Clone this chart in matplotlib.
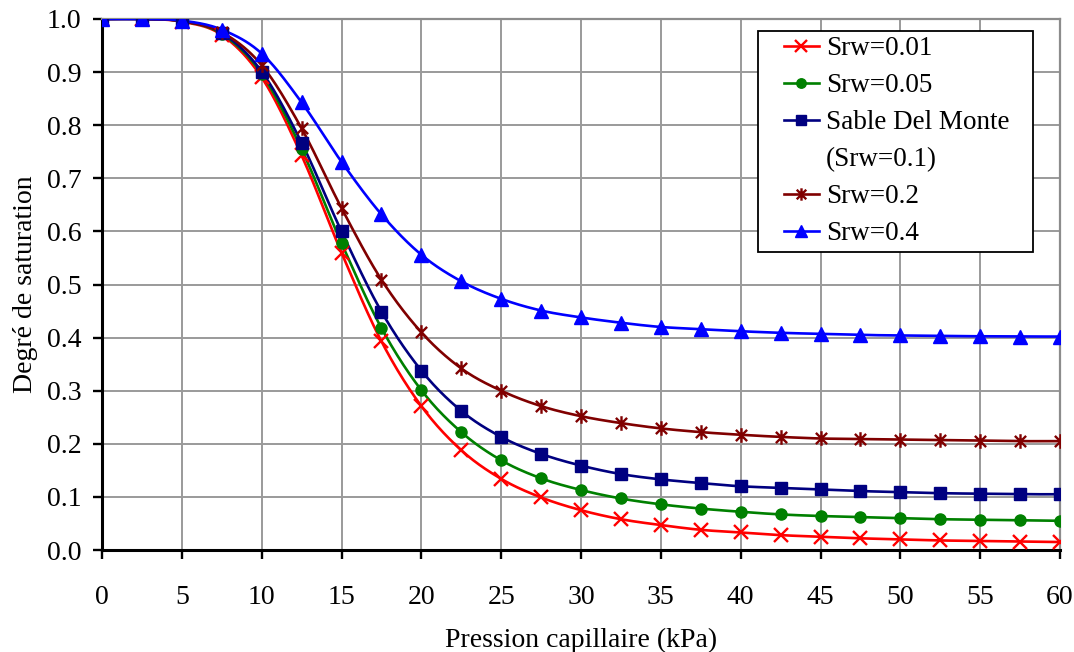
import numpy as np
import matplotlib
matplotlib.use("Agg")
import matplotlib.pyplot as plt
from matplotlib.path import Path
from matplotlib.patches import Rectangle
from matplotlib.lines import Line2D
from matplotlib.transforms import IdentityTransform

plt.rcParams['font.family'] = ['Liberation Serif', 'DejaVu Serif']

pression = [0, 2.5, 5, 7.5, 10, 12.5, 15, 17.5, 20, 22.5, 25, 27.5, 30,
            32.5, 35, 37.5, 40, 42.5, 45, 47.5, 50, 52.5, 55, 57.5, 60]

srw_001 = [1.0, 1.0, 0.995, 0.970, 0.890, 0.743, 0.560, 0.393, 0.271, 0.188, 0.134, 0.099, 0.075,
           0.058, 0.047, 0.038, 0.033, 0.028, 0.025, 0.022, 0.020, 0.018, 0.017, 0.016, 0.015]
srw_005 = [1.0, 1.0, 0.996, 0.972, 0.897, 0.755, 0.578, 0.418, 0.301, 0.222, 0.169, 0.135, 0.113,
           0.097, 0.086, 0.078, 0.072, 0.067, 0.064, 0.062, 0.060, 0.058, 0.057, 0.056, 0.055]
srw_01 = [1.0, 1.0, 0.996, 0.974, 0.901, 0.767, 0.600, 0.449, 0.338, 0.262, 0.213, 0.181, 0.159,
          0.143, 0.133, 0.126, 0.120, 0.117, 0.114, 0.111, 0.109, 0.107, 0.106, 0.105, 0.105]
srw_02 = [1.0, 1.0, 0.996, 0.975, 0.913, 0.794, 0.644, 0.509, 0.410, 0.342, 0.300, 0.271, 0.252,
          0.239, 0.229, 0.222, 0.217, 0.213, 0.210, 0.209, 0.208, 0.207, 0.206, 0.205, 0.205]
srw_04 = [1.0, 1.0, 0.997, 0.980, 0.935, 0.843, 0.731, 0.632, 0.556, 0.506, 0.473, 0.451, 0.438,
          0.428, 0.420, 0.416, 0.412, 0.409, 0.407, 0.405, 0.404, 0.403, 0.4025, 0.402, 0.402]

labels = ["Srw=0.01", "Srw=0.05", "Sable Del Monte", "Srw=0.2", "Srw=0.4"]
label_extra = "(Srw=0.1)"
x_ticks = list(range(0, 61, 5))
y_ticks = [0.0, 0.1, 0.2, 0.3, 0.4, 0.5, 0.6, 0.7, 0.8, 0.9, 1.0]


def smooth(x, y, n=20):
    """Catmull-Rom spline through the points (like Excel smoothed line)."""
    x = np.asarray(x, float)
    y = np.asarray(y, float)
    px = np.concatenate([[2 * x[0] - x[1]], x, [2 * x[-1] - x[-2]]])
    py = np.concatenate([[2 * y[0] - y[1]], y, [2 * y[-1] - y[-2]]])
    xs, ys = [], []
    t = np.linspace(0, 1, n, endpoint=False)
    for i in range(1, len(px) - 2):
        for p, out in ((px, xs), (py, ys)):
            p0, p1, p2, p3 = p[i - 1], p[i], p[i + 1], p[i + 2]
            out.append(0.5 * ((2 * p1) + (-p0 + p2) * t
                              + (2 * p0 - 5 * p1 + 4 * p2 - p3) * t ** 2
                              + (-p0 + 3 * p1 - 3 * p2 + p3) * t ** 3))
    xs.append([x[-1]])
    ys.append([y[-1]])
    return np.concatenate(xs), np.concatenate(ys)


star = Path([(-1, -1), (1, 1), (-1, 1), (1, -1), (0, -1.3), (0, 1.3)],
            [Path.MOVETO, Path.LINETO, Path.MOVETO, Path.LINETO, Path.MOVETO, Path.LINETO])

styles = [
    dict(color='#ff0000', marker='x', ms=9.5, mew=1.7),
    dict(color='#008000', marker='o', ms=8, mew=1.0),
    dict(color='#000080', marker='s', ms=8, mew=1.0),
    dict(color='#800000', marker=star, ms=10.5, mew=1.7, mfc='none'),
    dict(color='#0000ff', marker='^', ms=9.5, mew=1.0),
]

FS = 20
fig = plt.figure(figsize=(10.74, 6.52), dpi=100)
ax = fig.add_axes([102 / 1074, 1 - 550 / 652, 958 / 1074, 531 / 652])

series = [srw_001, srw_005, srw_01, srw_02, srw_04]
handles = []
for ys, lab, st in zip(series, labels, styles):
    sx, sy = smooth(pression, ys)
    ax.plot(sx, sy, color=st['color'], lw=1.9, zorder=3)
    ax.plot(pression, ys, ls='none', zorder=4, **st)
    h = Line2D([], [], lw=1.9, label=lab, **st)
    h.set_markersize(st['ms'] * 0.85)
    handles.append(h)
blank = Line2D([], [], ls='none', marker='none', label=label_extra)
handles.insert(3, blank)

ax.set_xlim(0, 60)
ax.set_ylim(0, 1.0)
ax.set_xticks(x_ticks)
ax.set_xticklabels([str(v) for v in x_ticks])
ax.set_yticks(y_ticks)
ax.set_yticklabels([f"{v:.1f}" for v in y_ticks])
ax.grid(True, color='#9a9a9a', lw=1.4)
ax.set_axisbelow(True)

for s in ('top', 'right'):
    ax.spines[s].set_color('#8c8c8c')
    ax.spines[s].set_linewidth(1.6)
for s in ('left', 'bottom'):
    ax.spines[s].set_color('black')
    ax.spines[s].set_linewidth(2.2)

ax.tick_params(axis='both', direction='out', length=6.5, width=1.7, color='black',
               labelsize=FS)
ax.tick_params(axis='x', pad=18.5)
ax.tick_params(axis='y', pad=8.5)

ax.set_xlabel("Pression capillaire (kPa)", fontsize=FS, labelpad=13)
ax.set_ylabel("Degré de saturation", fontsize=FS, labelpad=6.5)

leg = ax.legend(handles=handles, loc='upper left',
                bbox_to_anchor=(779 / 1074, 1 - 31 / 652), bbox_transform=fig.transFigure,
                fontsize=19.5, frameon=False, handlelength=1.26, labelspacing=0.44,
                borderpad=0.2, handletextpad=0.28, borderaxespad=0.0)
leg.set_zorder(6)

# frame drawn a little wider than the legend contents, as in the original
fig.canvas.draw()
bb = leg.get_window_extent()
frame = Rectangle((bb.x0 - 21, bb.y0 - 1), bb.width + 39, bb.height + 1,
                  transform=IdentityTransform(), facecolor='white',
                  edgecolor='black', lw=1.3, zorder=5.5, clip_on=False)
ax.add_patch(frame)

fig.savefig("out.png", dpi=100)
